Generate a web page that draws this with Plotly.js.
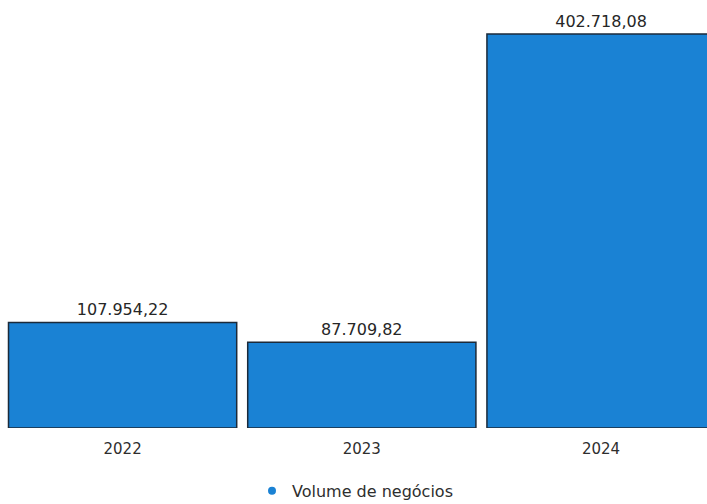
<!DOCTYPE html>
<html>
<head>
<meta charset="utf-8">
<script src="https://cdn.plot.ly/plotly-3.0.1.min.js"></script>
<style>html,body{margin:0;padding:0;background:#fff;}#chart{width:707px;height:504px;}</style>
</head>
<body>
<div id="chart"></div>
<script>
const years = ["2022", "2023", "2024"];
const values = [107954.22, 87709.82, 402718.08];
const labels = ["107.954,22", "87.709,82", "402.718,08"];
const seriesName = "Volume de negócios";

const barColor = "#1a82d4";

const traces = [
  {
    type: "bar",
    x: years,
    y: values,
    text: labels,
    textposition: "outside",
    cliponaxis: false,
    textfont: {family: "DejaVu Sans", size: 16, color: "#262626"},
    marker: {color: barColor, line: {color: "#1b2a3a", width: 1.5}},
    showlegend: false,
    hoverinfo: "skip"
  },
  {
    type: "scatter",
    mode: "markers",
    x: [null],
    y: [null],
    name: seriesName,
    marker: {color: barColor, size: 8, symbol: "circle"},
    showlegend: true
  }
];

const layout = {
  width: 707,
  height: 504,
  margin: {l: 3, r: 0, t: 0, b: 76, autoexpand: false},
  paper_bgcolor: "#ffffff",
  plot_bgcolor: "#ffffff",
  bargap: 0.046,
  font: {family: "DejaVu Sans", color: "#333333"},
  xaxis: {
    type: "category",
    range: [-0.5, 2.443],
    automargin: false,
    showgrid: false,
    zeroline: false,
    showline: false,
    ticks: "",
    ticklabelstandoff: 10,
    tickfont: {family: "DejaVu Sans", size: 15, color: "#2e2e2e"}
  },
  yaxis: {
    range: [0, 437500],
    visible: false,
    automargin: false,
    showgrid: false,
    zeroline: false
  },
  showlegend: true,
  legend: {
    orientation: "h",
    x: 0.5,
    xanchor: "center",
    yref: "container",
    y: 0.026,
    yanchor: "middle",
    itemwidth: 30,
    font: {family: "DejaVu Sans", size: 16, color: "#2e2e2e"}
  }
};

Plotly.newPlot("chart", traces, layout, {displayModeBar: false, staticPlot: true});
</script>
</body>
</html>
